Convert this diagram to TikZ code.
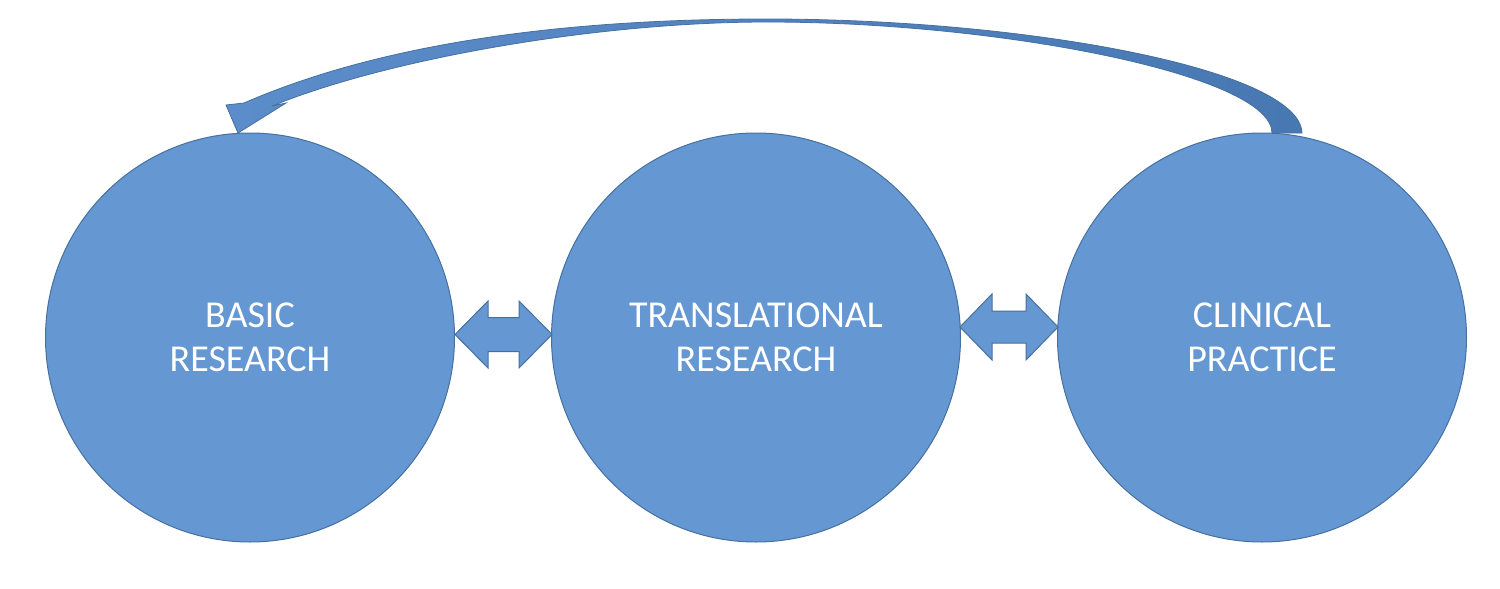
\documentclass[tikz,border=0pt]{standalone}
\usepackage{fontspec}
\setmainfont{Carlito}
\usetikzlibrary{calc}
\definecolor{cfill}{RGB}{101,152,210}
\definecolor{cline}{RGB}{70,112,160}
\definecolor{alight}{RGB}{92,141,203}
\definecolor{adark}{RGB}{72,120,178}
\begin{document}
\begin{tikzpicture}[x=0.5pt,y=-0.5pt,
  stage/.style={circle, minimum size=204.5pt, inner sep=0pt, fill=cfill, draw=cline, line width=0.5pt,
    text=white, align=center, font=\fontsize{19}{22}\selectfont},
  dbl/.style={fill=cfill, draw=cline, line width=0.5pt, line join=miter}
]
\useasboundingbox (0,0) rectangle (1500,589);
\node[stage] (basic) at (250,337.5) {BASIC\\RESEARCH};
\node[stage] (trans) at (756,337.5) {TRANSLATIONAL\\RESEARCH};
\node[stage] (clin) at (1262,337.5) {CLINICAL\\PRACTICE};

% double arrow between basic and translational
\coordinate (a1) at (455,334.5);
\coordinate (a2) at (552,334.5);
\draw[dbl] (a1) -- ++(33,-33.5) -- ++(0,16.5) -- ($(a2)+(-33,-17)$) -- ++(0,-16.5) -- (a2)
  -- ++(-33,33.5) -- ++(0,-16.5) -- ($(a1)+(33,17)$) -- ++(0,16.5) -- cycle;

% double arrow between translational and clinical
\coordinate (b1) at (960,327);
\coordinate (b2) at (1058,327);
\draw[dbl] (b1) -- ++(32,-33) -- ++(0,17) -- ($(b2)+(-32,-16)$) -- ++(0,-17) -- (b2)
  -- ++(-32,33) -- ++(0,-17) -- ($(b1)+(32,16)$) -- ++(0,17) -- cycle;

% curved feedback arrow
\shadedraw[left color=alight, middle color=alight!70!adark, right color=adark, draw=cline, line width=0.4pt, line join=miter]
  (244,103) .. controls (400,35) and (600,19) .. (767,19)
  .. controls (1030,19) and (1300,70) .. (1302,133)
  -- (1272,133)
  .. controls (1272,75) and (1000,22) .. (767,22)
  .. controls (600,22) and (390,58) .. (272,106)
  -- (286,103) -- (238,133) -- (226,105) -- cycle;
\end{tikzpicture}
\end{document}
